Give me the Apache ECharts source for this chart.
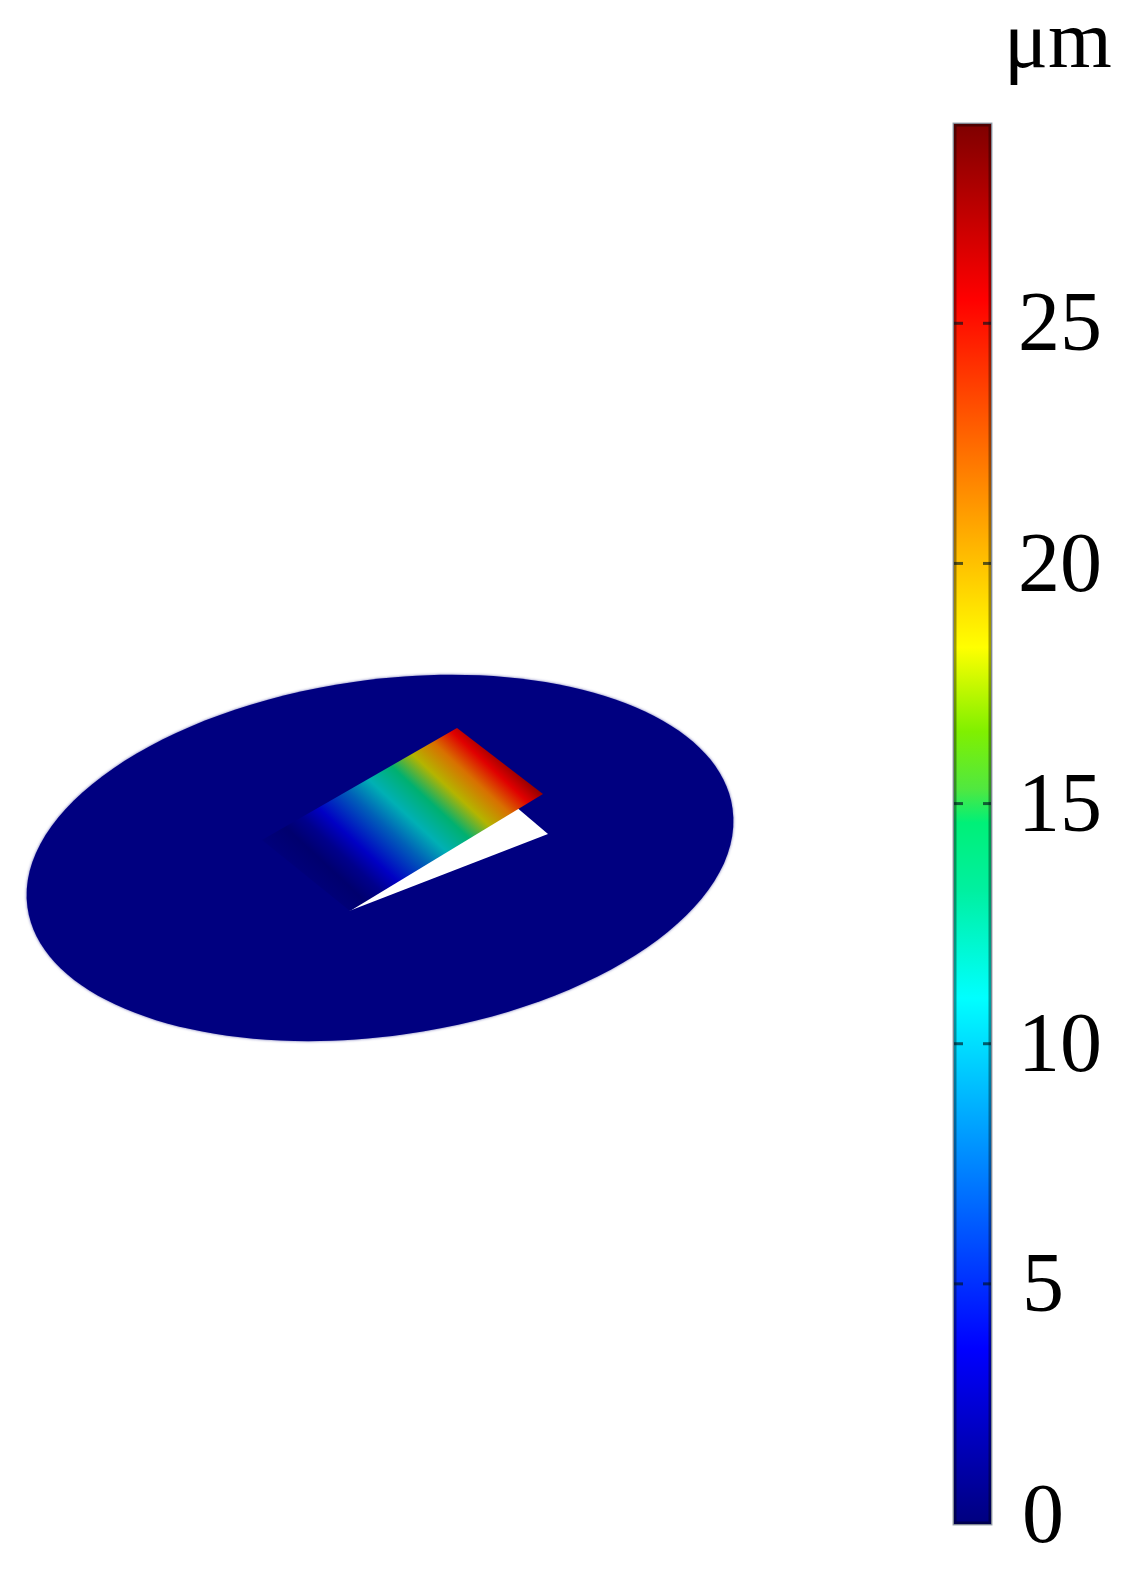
<!DOCTYPE html>
<html>
<head>
<meta charset="utf-8">
<style>
  html, body { margin: 0; padding: 0; background: #fff; }
  #chart { width: 1135px; height: 1577px; }
</style>
<script src="https://cdn.jsdelivr.net/npm/echarts@6/dist/echarts.min.js"></script>
</head>
<body>
<div id="chart"></div>
<script>
// colour bar
var unitLabel = 'μm'
var barMin = 0
var barMax = 29.15
var tickValues = [0, 5, 10, 15, 20, 25]
var jetValues = [0, 3.65, 10.95, 13.2, 14.6, 15.3, 16.5, 18.25, 25.5, 29.15]
var jetColors = ['#00007f', '#0000ff', '#00ffff', '#00f0a0', '#00f078', '#50e840', '#80f000', '#ffff00', '#ff0000', '#7f0000']

// disk (scene pixels)
var diskCenter = [380, 858]
var diskRadius = [356, 178]
var diskAngle = 8
var diskColor = '#000080'

// cut under the plate
var gapX = [349, 548, 515]
var gapY = [911, 834, 806]

// plate, coloured along the line plateFrom -> plateTo
var plateX = [457, 543, 350, 262]
var plateY = [728, 794, 911, 840]
var plateFrom = [332, 908]
var plateTo = [488, 740]
var plateOffsets = [0, 0.12, 0.2, 0.28, 0.42, 0.52, 0.63, 0.73, 0.83, 0.92, 1]
var plateColors = ['#00007c', '#00006e', '#00008c', '#0000c4', '#0060b8', '#00b0b4', '#00b070', '#b4b400', '#d87000', '#e00000', '#880000']

function zipStops(offsets, colors) {
  return offsets.map(function (o, i) {
    return { offset: o, color: colors[i] }
  })
}

function polygonPoints(xs, ys, api) {
  return xs.map(function (x, i) {
    return api.coord([x, ys[i]])
  })
}

function drawDisk(params, api) {
  var c = api.coord(diskCenter)
  var edge = api.coord([diskCenter[0] + diskRadius[0], diskCenter[1] + diskRadius[1]])
  return {
    type: 'ellipse',
    x: c[0],
    y: c[1],
    rotation: diskAngle * Math.PI / 180,
    shape: { cx: 0, cy: 0, rx: edge[0] - c[0], ry: edge[1] - c[1] },
    style: { fill: diskColor, shadowBlur: 3, shadowColor: 'rgba(0,0,128,0.6)' }
  }
}

function drawGap(params, api) {
  return {
    type: 'polygon',
    shape: { points: polygonPoints(gapX, gapY, api) },
    style: { fill: '#ffffff' }
  }
}

function drawPlate(params, api) {
  var a = api.coord(plateFrom)
  var b = api.coord(plateTo)
  return {
    type: 'polygon',
    shape: { points: polygonPoints(plateX, plateY, api) },
    style: {
      fill: new echarts.graphic.LinearGradient(a[0], a[1], b[0], b[1], zipStops(plateOffsets, plateColors), true)
    }
  }
}

function drawBar(params, api) {
  var top = api.coord([0, barMax])
  var bottom = api.coord([1, barMin])
  var w = bottom[0] - top[0]
  var h = bottom[1] - top[1]
  var stops = jetValues.map(function (v, i) {
    return { offset: 1 - (v - barMin) / (barMax - barMin), color: jetColors[i] }
  }).reverse()
  var children = [{
    type: 'rect',
    shape: { x: top[0], y: top[1], width: w, height: h },
    style: { fill: new echarts.graphic.LinearGradient(0, 0, 0, 1, stops) }
  }, {
    type: 'rect',
    shape: { x: top[0] + 1, y: top[1] + 1, width: w - 2, height: h - 2 },
    style: { fill: 'none', stroke: 'rgba(0,0,0,0.38)', lineWidth: 3 }
  }]
  // short stubs on both inner edges, not at 0
  tickValues.slice(1).forEach(function (v) {
    var y = api.coord([0, v])[1]
    children.push({
      type: 'line',
      shape: { x1: top[0], y1: y, x2: top[0] + 9, y2: y },
      style: { stroke: 'rgba(0,20,30,0.65)', lineWidth: 3 }
    })
    children.push({
      type: 'line',
      shape: { x1: bottom[0] - 8, y1: y, x2: bottom[0], y2: y },
      style: { stroke: 'rgba(0,20,30,0.65)', lineWidth: 3 }
    })
  })
  return { type: 'group', children: children }
}

var myChart = echarts.init(document.getElementById('chart'), null, { renderer: 'canvas' })
var serif = '"Liberation Serif", "Times New Roman", serif'

var option = {
  animation: false,
  backgroundColor: '#ffffff',
  title: {
    text: unitLabel,
    left: 999,
    top: -1,
    textStyle: { fontFamily: serif, fontSize: 82, fontWeight: 'normal', color: '#000' }
  },
  grid: [
    { left: 0, top: 0, width: 1135, height: 1577 },
    { left: 954, top: 124, width: 37, height: 1400, show: true, borderColor: '#9fa8b4', borderWidth: 3, backgroundColor: 'transparent' }
  ],
  xAxis: [
    { gridIndex: 0, type: 'value', min: 0, max: 1135, show: false },
    { gridIndex: 1, type: 'value', min: 0, max: 1, show: false }
  ],
  yAxis: [
    { gridIndex: 0, type: 'value', min: 0, max: 1577, inverse: true, show: false },
    {
      gridIndex: 1,
      type: 'value',
      position: 'right',
      min: barMin,
      max: barMax,
      splitLine: { show: false },
      axisLine: { show: false },
      axisTick: { show: false },
      axisLabel: {
        margin: 27,
        customValues: tickValues,
        fontFamily: serif,
        fontSize: 84,
        color: '#000',
        formatter: function (v) {
          if (v === 0) return '{low|0}'
          if (v === 5) return '{five|5}'
          return '{num|' + v + '}'
        },
        rich: {
          num: { fontFamily: serif, fontSize: 84, color: '#000', padding: [10, 0, 0, 0] },
          five: { fontFamily: serif, fontSize: 84, color: '#000', padding: [10, 0, 0, 4] },
          low: { fontFamily: serif, fontSize: 84, color: '#000', padding: [0, 0, 8, 4] }
        }
      }
    }
  ],
  series: [
    { type: 'custom', xAxisIndex: 0, yAxisIndex: 0, data: [0], renderItem: drawDisk, silent: true, z: 1 },
    { type: 'custom', xAxisIndex: 0, yAxisIndex: 0, data: [0], renderItem: drawGap, silent: true, z: 2 },
    { type: 'custom', xAxisIndex: 0, yAxisIndex: 0, data: [0], renderItem: drawPlate, silent: true, z: 3 },
    { type: 'custom', xAxisIndex: 1, yAxisIndex: 1, data: [0], renderItem: drawBar, silent: true, z: 1 }
  ]
}
myChart.setOption(option)
</script>
</body>
</html>
